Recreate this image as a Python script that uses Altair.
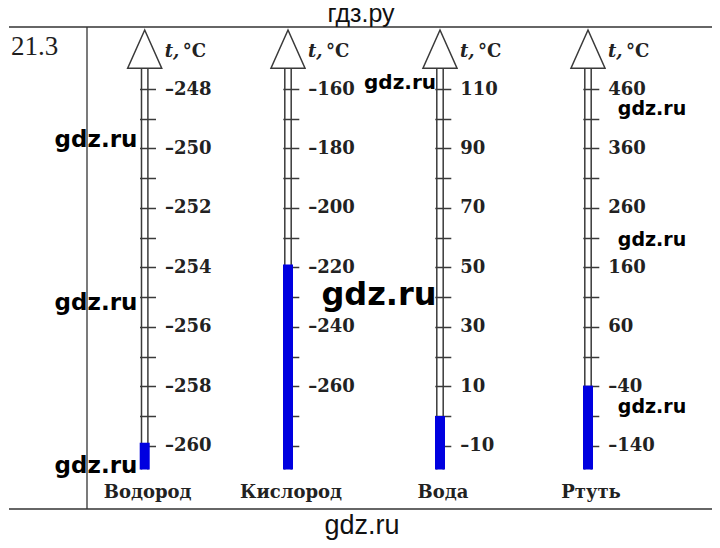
import altair as alt
import pandas as pd

# ---------------- data ----------------
substances = ["Водород", "Кислород", "Вода", "Ртуть"]
melt_t = [-259.9, -219, 0, -39]
scale_top = [-248, -160, 110, 460]
scale_bottom = [-260, -280, -10, -140]
minor_step = [1, 10, 10, 50]
major_labels = [
    [-248, -250, -252, -254, -256, -258, -260],
    [-160, -180, -200, -220, -240, -260],
    [110, 90, 70, 50, 30, 10, -10],
    [460, 360, 260, 160, 60, -40, -140],
]
problem_no = "21.3"
axis_var = "t,"
axis_unit = "°C"
header_text = "гдз.ру"
footer_text = "gdz.ru"
watermark_text = "gdz.ru"

# ---------------- layout / style ----------------
W, H = 704, 532
tube_x = [135.7, 279, 431, 579]
Y_TOP, Y_BOT = 81, 437.7
Y_TUBE_END = 461.5
Y_APEX, Y_BASE = 22, 60.3
INK = "#222222"
LINE = "#3a3a3a"
BLUE = "#0000e0"
SERIF = "DejaVu Serif"
ARROW = "M0,-1L0.89,1L-0.89,1Z"

one = pd.DataFrame({"k": [0]})


def thermometer(i):
    cx = tube_x[i]
    df = pd.DataFrame({"substance": [substances[i]], "t": [melt_t[i]]})
    base = alt.Chart(df)
    ticks = list(range(scale_top[i], scale_bottom[i] - 1, -minor_step[i]))
    lab = major_labels[i]
    expr = (f"indexof({lab}, datum.value) >= 0 ? "
            "(datum.value < 0 ? '–' + abs(datum.value) : '' + datum.value) : ''")
    yscale = alt.Scale(domain=[scale_bottom[i], scale_top[i]], range=[Y_BOT, Y_TOP],
                       nice=False, zero=False)
    axis = alt.Axis(orient="right", offset=(cx - 3.2) - W, values=ticks, domain=False,
                    grid=False, ticks=True, tickSize=16, tickWidth=1.5, tickColor=LINE,
                    labelPadding=9, labelFont=SERIF, labelFontWeight="bold",
                    labelFontSize=18, labelColor=INK, labelExpr=expr,
                    labelOverlap=False, labelFlush=False, labelBound=False, title="")
    tube = [
        base.mark_rule(color=LINE, strokeWidth=1.5).encode(
            x=alt.value(cx + dx), y=alt.value(Y_BASE), y2=alt.value(Y_TUBE_END))
        for dx in (-3.2, 3.2)
    ]
    fill = base.mark_rect(color=BLUE).encode(
        y=alt.Y("t:Q", scale=yscale, axis=axis),
        y2=alt.value(Y_TUBE_END),
        x=alt.value(cx - 5), x2=alt.value(cx + 5))
    arrow = base.mark_point(shape=ARROW, size=(Y_BASE - Y_APEX) ** 2, filled=True,
                            fill="white", stroke=LINE, strokeWidth=1.5, opacity=1).encode(
        x=alt.value(cx), y=alt.value((Y_APEX + Y_BASE) / 2))
    t_lbl = base.mark_text(text=axis_var, font=SERIF, fontStyle="italic", fontWeight="bold",
                           fontSize=18, align="left", baseline="alphabetic", color=INK).encode(
        x=alt.value(cx + 20), y=alt.value(48.5))
    u_lbl = base.mark_text(text=axis_unit, font=SERIF, fontWeight="bold", fontSize=18,
                           align="left", baseline="alphabetic", color=INK).encode(
        x=alt.value(cx + 38), y=alt.value(48.5))
    name = base.mark_text(font=SERIF, fontWeight="bold", fontSize=18, align="center",
                          baseline="middle", color=INK).encode(
        text="substance:N", x=alt.value(cx + 3), y=alt.value(484.5))
    return alt.layer(*tube, fill, arrow, t_lbl, u_lbl, name)


therms = [thermometer(i) for i in range(4)]

deco = alt.Chart(one)
frame = [
    deco.mark_rule(color="#333333", strokeWidth=1.6).encode(
        x=alt.value(0), x2=alt.value(W), y=alt.value(19)),
    deco.mark_rule(color="#333333", strokeWidth=1.6).encode(
        x=alt.value(0), x2=alt.value(W), y=alt.value(501)),
    deco.mark_rule(color="#333333", strokeWidth=1.3).encode(
        x=alt.value(78), y=alt.value(19), y2=alt.value(501)),
]
num = deco.mark_text(text=problem_no, font="Liberation Serif", fontSize=27, align="left",
                     baseline="alphabetic", color="#1e1e1e").encode(
    x=alt.value(2), y=alt.value(47))
header = deco.mark_text(text=header_text, font="Liberation Sans", fontSize=25,
                        align="center", baseline="alphabetic", color="#111111",
                        clip=True).encode(x=alt.value(352), y=alt.value(14))
footer = deco.mark_text(text=footer_text, font="Liberation Sans", fontSize=27,
                        align="center", baseline="alphabetic", color="#111111",
                        clip=True).encode(x=alt.value(353), y=alt.value(526))

wm_spots = [(391, 81, 20), (643, 107, 19), (87, 139, 23), (643, 238, 19),
            (370, 297, 32), (87, 302, 23), (643, 405, 19), (87, 465, 23)]
wms = [
    deco.mark_text(text=watermark_text, font="DejaVu Sans", fontWeight="bold", fontSize=fs,
                   align="center", baseline="alphabetic", color="#000000").encode(
        x=alt.value(x), y=alt.value(y))
    for (x, y, fs) in wm_spots
]

chart = alt.layer(*frame, num, header, footer, *therms, *wms).resolve_scale(
    y="independent"
).properties(
    width=W, height=H, padding=0, background="white",
    autosize=alt.AutoSizeParams(type="fit", contains="padding"),
).configure_view(stroke="transparent")

chart.save("out.html", embed_options={"renderer": "svg", "actions": False})
